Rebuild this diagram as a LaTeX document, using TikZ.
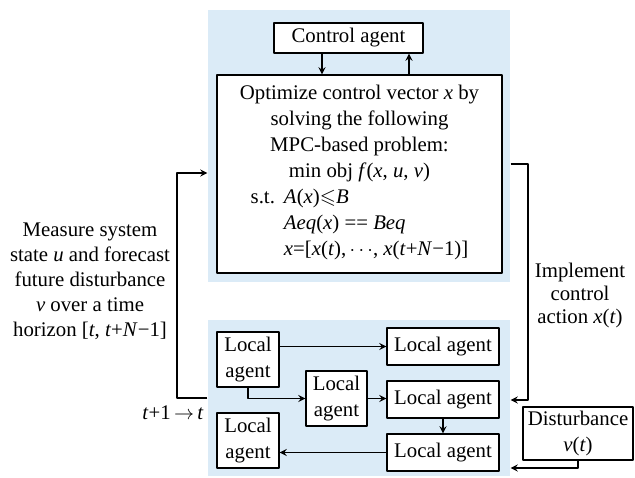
\documentclass[tikz,border=0pt]{standalone}
\usepackage{fontspec}
\setmainfont{Liberation Serif}
\usepackage{amssymb}
\definecolor{panelblue}{RGB}{219,235,247}
\newcommand\iv[1]{\textit{#1}}
\tikzset{
  panel/.style={fill=panelblue, inner sep=0pt, minimum width=151pt},
  box/.style={draw, fill=white, inner sep=0pt, align=center},
  agent/.style={box, minimum width=31pt, minimum height=27.5pt},
  wideagent/.style={box, minimum width=56pt, minimum height=18.5pt},
}
\begin{document}
\begin{tikzpicture}[x=0.5pt, y=-0.5pt, font={\fontsize{10.4}{13}\selectfont}, line join=round, >=stealth, line width=0.6pt]
\useasboundingbox (0,0) rectangle (635,477);
% blue panels
\node[panel, minimum height=136pt] (upper) at (359,146) {};
\node[panel, minimum height=78pt] (lower) at (359,398) {};
% upper level
\node[box, minimum width=74.5pt, minimum height=15pt] (ctrl) at (348.5,38) {Control agent};
\node[box, minimum width=142.5pt, minimum height=99pt] (opt) at (359.5,174) {Optimize control vector \iv{x} by\\solving the following\\MPC-based problem:\\min obj \iv{f}(\iv{x}, \iv{u}, \iv{v})\\
\begin{tabular}[t]{@{}l@{\hspace{4.5pt}}l@{}}
s.t. & \iv{A}(\iv{x})$\leqslant$\iv{B}\\
 & \iv{Aeq}(\iv{x}) == \iv{Beq}\\
 & \iv{x}=[\iv{x}(\iv{t}),$\,\cdots$, \iv{x}(\iv{t}+\iv{N}−1)]
\end{tabular}};
\draw[->] ([xshift=-13.25pt]ctrl.south) -- ([xshift=-13.25pt]ctrl.south |- opt.north);
\draw[->] ([xshift=30.25pt]ctrl.south |- opt.north) -- ([xshift=30.25pt]ctrl.south);
% lower level
\node[agent] (la1) at (248,359.5) {Local\\agent};
\node[agent] (la2) at (248,440.5) {Local\\agent};
\node[agent, minimum width=30.5pt] (la3) at (336.5,398.5) {Local\\agent};
\node[wideagent] (la4) at (443,346.5) {Local agent};
\node[wideagent] (la5) at (443,399.5) {Local agent};
\node[wideagent] (la6) at (443,452.5) {Local agent};
\draw[->] (la1.east |- la4.west) -- (la4.west);
\draw[->] (la1.south) |- (la3.west);
\draw[->] (la3.east) -- (la3.east -| la5.west);
\draw[->] (la5.south) -- (la6.north);
\draw[->] (la6.west) -- (la6.west -| la2.east);
% disturbance
\node[box, minimum width=55pt, minimum height=26.5pt] (dist) at (578,433.5) {Disturbance\\\iv{v}(\iv{t})};
\draw[->] (dist.south) |- ([yshift=-35pt]lower.east);
% loops between the levels
\coordinate (r) at (528,400);
\draw[->] ([yshift=-9pt]upper.east) -| (r) -- (r -| lower.east);
\node[align=center, font={\fontsize{10.4}{11.5}\selectfont}] (impl) at (580,295) {Implement\\control\\action \iv{x}(\iv{t})};
\coordinate (l) at (177,173);
\draw[->] (lower.west) -| (l) -- (l -| upper.west);
\node[align=center, font={\fontsize{10.4}{12.5}\selectfont}] (meas) at (90,281) {Measure system\\state \iv{u} and forecast\\future disturbance\\\iv{v} over a time\\horizon [\iv{t}, \iv{t}+\iv{N}−1]};
\node (tick) at (173,413) {\iv{t}+1$\,\rightarrow\,$\iv{t}};
\end{tikzpicture}
\end{document}
